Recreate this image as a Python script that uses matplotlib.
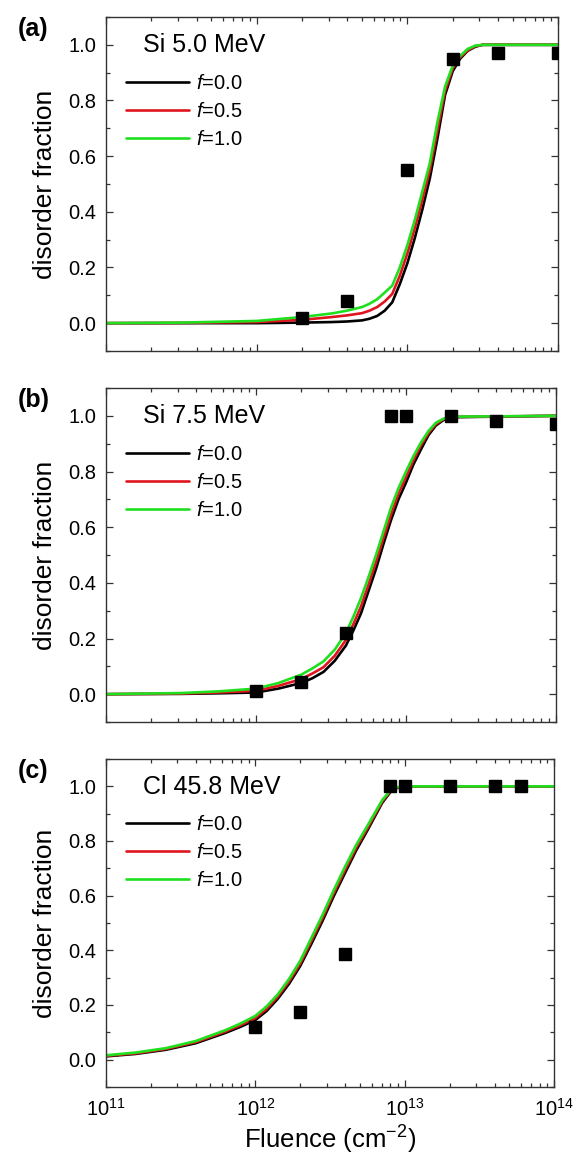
import matplotlib
matplotlib.use("Agg")
import matplotlib.pyplot as plt
from matplotlib.ticker import LogLocator, MultipleLocator, FormatStrFormatter, NullFormatter

plt.rcParams['font.family'] = ['Liberation Sans', 'DejaVu Sans']
plt.rcParams['mathtext.fontset'] = 'custom'
plt.rcParams['mathtext.rm'] = 'Liberation Sans'
plt.rcParams['mathtext.it'] = 'Liberation Sans:italic'
plt.rcParams['mathtext.bf'] = 'Liberation Sans:bold'

# ---------------- data ----------------
labels_f = ["$f$=0.0", "$f$=0.5", "$f$=1.0"]
panel_tags = ["(a)", "(b)", "(c)"]
panel_titles = ["Si 5.0 MeV", "Si 7.5 MeV", "Cl 45.8 MeV"]

# (a) Si 5.0 MeV
fluence_a = [1e11, 3.16e11, 1e12, 2e12, 3.16e12, 3.98e12, 5.01e12, 5.62e12, 6.31e12,
             7.08e12, 7.94e12, 8.91e12, 1e13, 1.12e13, 1.26e13, 1.41e13, 1.58e13,
             1.78e13, 2e13, 2.24e13, 2.51e13, 2.82e13, 3.16e13, 1e14]
f00_a = [0.0, 0.0, 0.0, 0.002, 0.004, 0.006, 0.01, 0.016, 0.026, 0.045, 0.075,
         0.14, 0.215, 0.305, 0.41, 0.52, 0.66, 0.82, 0.905, 0.95, 0.978, 0.993,
         1.0, 1.0]
f05_a = [0.0, 0.001, 0.004, 0.012, 0.022, 0.028, 0.036, 0.045, 0.058, 0.078, 0.105,
         0.17, 0.25, 0.34, 0.445, 0.55, 0.69, 0.835, 0.915, 0.955, 0.98, 0.995,
         1.0, 1.0]
f10_a = [0.0, 0.002, 0.008, 0.022, 0.035, 0.045, 0.058, 0.07, 0.086, 0.11, 0.135,
         0.2, 0.28, 0.37, 0.475, 0.575, 0.72, 0.85, 0.925, 0.96, 0.985, 0.997,
         1.0, 1.0]
exp_x_a = [2e12, 4e12, 1e13, 2e13, 4e13, 1e14]
exp_y_a = [0.02, 0.08, 0.55, 0.95, 0.97, 0.97]

# (b) Si 7.5 MeV
fluence_b = [1e11, 3.16e11, 5.62e11, 1e12, 1.41e12, 2e12, 2.37e12, 2.82e12, 3.35e12,
             3.98e12, 4.47e12, 5.01e12, 5.62e12, 6.31e12, 7.08e12, 7.94e12, 8.91e12,
             1e13, 1.12e13, 1.26e13, 1.41e13, 1.58e13, 1.78e13, 2e13, 1e14]
f00_b = [0.0, 0.001, 0.003, 0.006, 0.02, 0.04, 0.057, 0.08, 0.12, 0.175, 0.23,
         0.29, 0.37, 0.45, 0.54, 0.625, 0.70, 0.76, 0.825, 0.88, 0.93, 0.965,
         0.985, 0.995, 1.0]
f05_b = [0.0, 0.002, 0.006, 0.012, 0.03, 0.054, 0.074, 0.097, 0.138, 0.195, 0.253,
         0.315, 0.393, 0.475, 0.562, 0.645, 0.72, 0.78, 0.84, 0.895, 0.938, 0.97,
         0.988, 0.996, 1.0]
f10_b = [0.0, 0.004, 0.01, 0.02, 0.04, 0.07, 0.092, 0.118, 0.16, 0.22, 0.28,
         0.345, 0.42, 0.50, 0.585, 0.67, 0.74, 0.80, 0.855, 0.905, 0.945, 0.975,
         0.99, 0.997, 1.0]
exp_x_b = [1e12, 2e12, 4e12, 8e12, 1e13, 2e13, 4e13, 1e14]
exp_y_b = [0.01, 0.045, 0.22, 1.0, 1.0, 1.0, 0.98, 0.97]

# (c) Cl 45.8 MeV
fluence_c = [1e11, 1.58e11, 2.51e11, 3.98e11, 6.31e11, 7.94e11, 1e12, 1.19e12,
             1.41e12, 1.68e12, 2e12, 2.37e12, 2.82e12, 3.35e12, 3.98e12, 4.73e12,
             5.62e12, 7.08e12, 8.32e12, 1e13, 1e14]
f00_c = [0.012, 0.021, 0.036, 0.06, 0.098, 0.12, 0.145, 0.178, 0.222, 0.277, 0.343,
         0.423, 0.508, 0.598, 0.682, 0.765, 0.838, 0.94, 0.99, 1.0, 1.0]
f05_c = [0.014, 0.023, 0.039, 0.064, 0.103, 0.126, 0.152, 0.186, 0.23, 0.286, 0.352,
         0.434, 0.519, 0.609, 0.693, 0.775, 0.846, 0.945, 0.993, 1.0, 1.0]
f10_c = [0.016, 0.026, 0.042, 0.068, 0.108, 0.132, 0.16, 0.195, 0.238, 0.295, 0.362,
         0.445, 0.53, 0.62, 0.705, 0.785, 0.855, 0.95, 0.995, 1.0, 1.0]
exp_x_c = [1e12, 2e12, 4e12, 8e12, 1e13, 2e13, 4e13, 6e13]
exp_y_c = [0.12, 0.175, 0.385, 1.0, 1.0, 1.0, 1.0, 1.0]

curve_colors = ["#000000", "#e0141e", "#1fe01f"]

panels = [
    (fluence_a, [f00_a, f05_a, f10_a], exp_x_a, exp_y_a),
    (fluence_b, [f00_b, f05_b, f10_b], exp_x_b, exp_y_b),
    (fluence_c, [f00_c, f05_c, f10_c], exp_x_c, exp_y_c),
]

# ---------------- layout ----------------
W, H = 580, 1159
fig = plt.figure(figsize=(W / 100, H / 100), dpi=100)
boxes = [(106, 17, 452, 334), (106, 388, 450, 334), (106, 759, 448, 328)]

spine_col = "#333333"
for i, ((xs, ys_list, ex, ey), (px, py, pw, ph)) in enumerate(zip(panels, boxes)):
    ax = fig.add_axes([px / W, 1 - (py + ph) / H, pw / W, ph / H])
    for ys, col, lab in zip(ys_list, curve_colors, labels_f):
        ax.plot(xs, ys, color=col, lw=1.9, label=lab,
                solid_capstyle='round', solid_joinstyle='round')
    ax.plot(ex, ey, 's', color='black', ms=8, ls='none', zorder=5)

    ax.set_xscale('log')
    ax.set_xlim(1e11, 1e14)
    ax.set_ylim(-0.1, 1.1)
    ax.yaxis.set_major_locator(MultipleLocator(0.2))
    ax.yaxis.set_minor_locator(MultipleLocator(0.1))
    ax.yaxis.set_major_formatter(FormatStrFormatter('%.1f'))
    ax.xaxis.set_major_locator(LogLocator(base=10, numticks=10))
    ax.xaxis.set_minor_locator(LogLocator(base=10, subs=range(2, 10), numticks=20))
    ax.xaxis.set_minor_formatter(NullFormatter())
    ax.tick_params(which='both', direction='in', top=True, right=True,
                   color=spine_col, width=0.9)
    ax.tick_params(which='major', length=5, labelsize=14.5, pad=7)
    ax.tick_params(which='minor', length=3)
    for sp in ax.spines.values():
        sp.set_color(spine_col)
        sp.set_linewidth(1.0)
    if i < 2:
        ax.tick_params(axis='x', labelbottom=False)
    else:
        ax.set_xlabel("Fluence (cm$^{-2}$)", fontsize=18.5, labelpad=3)
        ax.tick_params(axis='x', which='major', pad=8)
    ax.set_ylabel("disorder fraction", fontsize=19, labelpad=8)

    ax.text(0.082, 0.915, panel_titles[i], transform=ax.transAxes,
            fontsize=18, va='center', ha='left')
    ax.legend(loc='upper left', bbox_to_anchor=(0.045, 0.83), frameon=False,
              fontsize=14.5, handlelength=3.1, handletextpad=0.35,
              labelspacing=0.45, borderpad=0.0, borderaxespad=0.0)
    fig.text(18 / W, 1 - (py + 12) / H, panel_tags[i], fontsize=18,
             fontweight='bold', va='center', ha='left')

fig.savefig("out.png", dpi=100)
